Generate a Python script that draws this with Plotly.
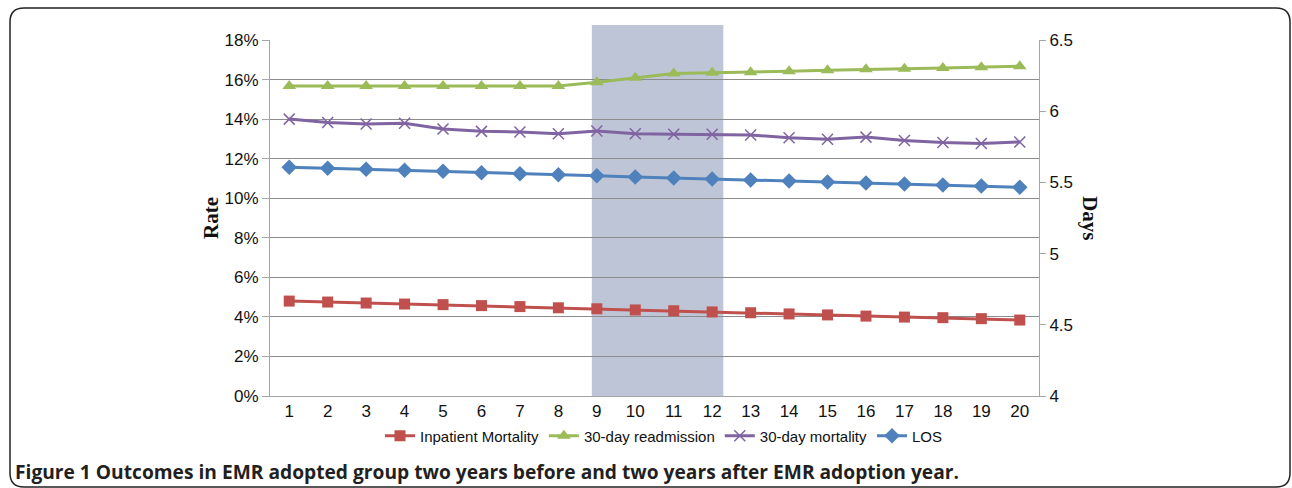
import plotly.graph_objects as go

years = list(range(1, 21))
inpatient_mortality = [4.80, 4.75, 4.70, 4.65, 4.62, 4.57, 4.52, 4.46, 4.41, 4.35,
                       4.31, 4.25, 4.21, 4.15, 4.10, 4.04, 3.99, 3.96, 3.91, 3.84]
readmission_30 = [15.67, 15.67, 15.67, 15.67, 15.67, 15.67, 15.67, 15.67, 15.86, 16.09,
                  16.31, 16.35, 16.37, 16.42, 16.47, 16.52, 16.55, 16.58, 16.62, 16.67]
mortality_30 = [14.00, 13.83, 13.75, 13.79, 13.50, 13.38, 13.35, 13.26, 13.40, 13.26,
                13.23, 13.23, 13.20, 13.06, 12.98, 13.09, 12.92, 12.82, 12.77, 12.84]
los_days = [5.606, 5.599, 5.592, 5.585, 5.578, 5.568, 5.561, 5.554, 5.547, 5.538,
            5.531, 5.524, 5.517, 5.510, 5.503, 5.496, 5.489, 5.482, 5.475, 5.466]
shade_start, shade_end = 8.87, 12.29

W, H = 1292, 488
L, R, T, B = 270, 1039, 40, 396

def px(x):
    return (x - L) / (R - L)

def py(y):
    return (B - y) / (B - T)

fig = go.Figure()
fig.add_trace(go.Scatter(x=years, y=[v / 100 for v in inpatient_mortality], name="Inpatient Mortality",
                         mode="lines+markers", line=dict(color="#c0504d", width=3),
                         marker=dict(symbol="square", size=11, color="#c0504d")))
fig.add_trace(go.Scatter(x=years, y=[v / 100 for v in readmission_30], name="30-day readmission",
                         mode="lines+markers", line=dict(color="#9bbb59", width=3),
                         marker=dict(symbol="triangle-up", size=12, color="#9bbb59")))
fig.add_trace(go.Scatter(x=years, y=[v / 100 for v in mortality_30], name="30-day mortality",
                         mode="lines+markers", line=dict(color="#8064a2", width=3),
                         marker=dict(symbol="x-thin-open", size=11, color="#8064a2",
                                     line=dict(width=1.5, color="#8064a2"))))
fig.add_trace(go.Scatter(x=years, y=los_days, name="LOS", yaxis="y2",
                         mode="lines+markers", line=dict(color="#4f81bd", width=3),
                         marker=dict(symbol="diamond", size=12, color="#4f81bd")))

fig.add_shape(type="rect", xref="x", yref="paper", x0=shade_start, x1=shade_end,
              y0=0, y1=py(25), fillcolor="#bec5d6", line=dict(width=0), layer="below")

# rounded border
x0, x1, y0, y1, r = 10, 1290, 8, 487, 14
path = (f"M {px(x0 + r)} {py(y0)} L {px(x1 - r)} {py(y0)} Q {px(x1)} {py(y0)} {px(x1)} {py(y0 + r)} "
        f"L {px(x1)} {py(y1 - r)} Q {px(x1)} {py(y1)} {px(x1 - r)} {py(y1)} "
        f"L {px(x0 + r)} {py(y1)} Q {px(x0)} {py(y1)} {px(x0)} {py(y1 - r)} "
        f"L {px(x0)} {py(y0 + r)} Q {px(x0)} {py(y0)} {px(x0 + r)} {py(y0)} Z")
fig.add_shape(type="path", xref="paper", yref="paper", path=path,
              line=dict(color="#222222", width=1.5), layer="above")

tick_font = dict(family="Liberation Sans, Arial, sans-serif", size=17, color="#111111")
fig.update_layout(
    width=W, height=H,
    margin=dict(l=L, r=W - R, t=T, b=H - B),
    paper_bgcolor="white", plot_bgcolor="rgba(0,0,0,0)",
    showlegend=True,
    legend=dict(orientation="h", x=px(664), xanchor="center", y=py(436), yanchor="middle",
                font=dict(family="Liberation Sans, Arial, sans-serif", size=15, color="#111111"),
                itemwidth=30, tracegroupgap=0, bgcolor="rgba(0,0,0,0)"),
    xaxis=dict(range=[0.5, 20.5], tickmode="array", tickvals=years, ticktext=[str(y) for y in years],
               showgrid=False, showline=True, linecolor="#a6a6a6", linewidth=1,
               ticks="", tickfont=tick_font, zeroline=False),
    yaxis=dict(range=[0, 0.18], dtick=0.02, tickformat=".0%", showgrid=True, gridcolor="#8c8c8c",
               gridwidth=1, showline=True, linecolor="#a6a6a6", linewidth=1,
               ticks="outside", ticklen=7, tickcolor="#a6a6a6", tickfont=tick_font, zeroline=False),
    yaxis2=dict(range=[4, 6.5], dtick=0.5, overlaying="y", side="right", showgrid=False,
                showline=True, linecolor="#a6a6a6", linewidth=1, ticks="outside", ticklen=6,
                tickcolor="#a6a6a6", tickfont=tick_font, zeroline=False),
)

fig.add_annotation(text="<b>Rate</b>", xref="paper", yref="paper", x=px(211), y=0.5,
                   xanchor="center", yanchor="middle",
                   showarrow=False, textangle=-90,
                   font=dict(family="Liberation Serif, Times New Roman, serif", size=21, color="#111111"))
fig.add_annotation(text="<b>Days</b>", xref="paper", yref="paper", x=px(1090), y=0.5,
                   xanchor="center", yanchor="middle",
                   showarrow=False, textangle=90,
                   font=dict(family="Liberation Serif, Times New Roman, serif", size=21, color="#111111"))
fig.add_annotation(text="<b>Figure 1 Outcomes in EMR adopted group two years before and two years after EMR adoption year.</b>",
                   xref="paper", yref="paper", x=px(13), y=py(471), xanchor="left", yanchor="middle",
                   showarrow=False,
                   font=dict(family="Open Sans, sans-serif", size=19.2, color="#231f20"))

fig.write_html("out.html", post_script="document.body.style.margin='0';",
               config={"displayModeBar": False})
